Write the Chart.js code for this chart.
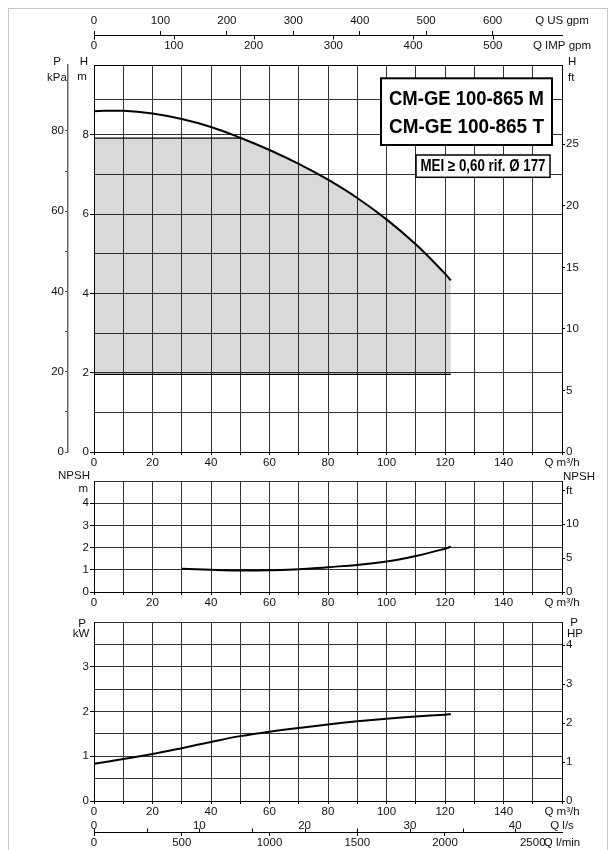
<!DOCTYPE html>
<html>
<head>
<meta charset="utf-8">
<script src="https://cdn.jsdelivr.net/npm/chart.js@4/dist/chart.umd.min.js"></script>
<style>
body { margin: 0; background: #fff; }
#page { position: relative; width: 615px; height: 850px; overflow: hidden; }
#frame { position: absolute; left: 8px; top: 8px; width: 598px; height: 900px; border: 1px solid #c8c8c8; }
canvas { position: absolute; left: 0; top: 0; }
</style>
</head>
<body>
<div id="page">
  <div id="frame"></div>
  <canvas id="head" width="615" height="850"></canvas>
  <canvas id="npsh" width="615" height="850"></canvas>
  <canvas id="power" width="615" height="850"></canvas>
</div>
<script>
// pump curves (Q in m3/h)
var q_head = [0, 10, 20, 30, 40, 50, 60, 70, 80, 90, 100, 110, 120, 122];
var h_head = [8.60, 8.61, 8.54, 8.40, 8.20, 7.93, 7.62, 7.27, 6.87, 6.41, 5.87, 5.24, 4.50, 4.33];
var q_npsh = [30, 40, 50, 60, 70, 80, 90, 100, 110, 120, 122];
var h_npsh = [1.05, 1.0, 0.97, 0.98, 1.02, 1.12, 1.22, 1.37, 1.62, 1.95, 2.04];
var q_power = [0, 10, 20, 30, 40, 50, 60, 70, 80, 90, 100, 110, 120, 122];
var p_power = [0.83, 0.94, 1.05, 1.18, 1.32, 1.45, 1.55, 1.63, 1.71, 1.78, 1.84, 1.89, 1.93, 1.94];

// working range (grey area)
var band_q = [0, 122];
var band_top = 7.92;
var band_bottom = 1.96;
var band_top_q = [0, 50];

// axes ranges
var q_max = 160;
var h_max = 9.765;
var kpa_max = 96.44;
var hft_max = 31.44;
var npsh_max = 5;
var npsh_ft_max = 16.4;
var kw_max = 4;
var hp_max = 4.59;

// unit factors to m3/h
var us_gpm = 0.22712;
var imp_gpm = 0.272765;
var l_s = 3.6;
var l_min = 0.06;

// tick values
var h_ticks = [0, 1, 2, 3, 4, 5, 6, 7, 8, 8.9];
var kpa_ticks = [0, 10, 20, 30, 40, 50, 60, 70, 80];
var hft_ticks = [0, 5, 10, 15, 20, 25];
var npsh_ft_ticks = [0, 5, 10, 15];
var hp_ticks = [0, 1, 2, 3, 4];
var us_ticks = [0, 100, 200, 300, 400, 500, 600];
var imp_ticks = [0, 100, 200, 300, 400, 500];
var ls_ticks = [0, 5, 10, 15, 20, 25, 30, 35, 40];
var lmin_ticks = [0, 500, 1000, 1500, 2000, 2500];

var model_lines = ['CM-GE 100-865 M', 'CM-GE 100-865 T'];
var mei_line = ['MEI \u2265 0,60 rif. \u00d8 177'];

var FONT = '"Liberation Sans", Arial, Helvetica, sans-serif';
var gridCol = '#333';
var ink = '#111';
var none = 'rgba(0,0,0,0)';

Chart.defaults.font.family = FONT;
Chart.defaults.font.size = 11.5;
Chart.defaults.color = ink;
Chart.defaults.animation = false;

function pts(xs, ys) {
  return xs.map(function (x, i) { return { x: x, y: ys[i] }; });
}
function width(px) { return function (s) { s.width = px; }; }
function height(px) { return function (s) { s.height = px; }; }
// fixed tick list, optional extra tick at the axis end for the unit label
function tickList(list, end) {
  return function (s) {
    var l = list.slice();
    if (end !== undefined) l.push(end);
    s.ticks = l.map(function (v) { return { value: v }; });
  };
}
function onlyUpTo(lim, col) {
  return function (c) { return c.tick && c.tick.value <= lim ? col : none; };
}

// text next to the axes
var titlePlugin = {
  id: 'axisTitles',
  afterDraw: function (chart, args, opts) {
    var ctx = chart.ctx, a = chart.chartArea;
    ctx.save();
    ctx.fillStyle = ink;
    ctx.font = '11.5px ' + FONT;
    ctx.textBaseline = 'middle';
    (opts.items || []).forEach(function (it) {
      ctx.textAlign = it.align || 'center';
      ctx.fillText(it.t, (it.side === 'right' ? a.right : a.left) + it.dx, a.top + it.dy);
    });
    ctx.restore();
  }
};

// tick marks on the other side of a shared axis line
var flipTicks = {
  id: 'flipTicks',
  afterDraw: function (chart, args, opts) {
    var ctx = chart.ctx;
    (opts.list || []).forEach(function (f) {
      var sc = chart.scales[f.scale], ref = chart.scales[f.ref];
      var y0 = Math.round(f.edge === 'bottom' ? ref.bottom : ref.top) + 0.5;
      ctx.save();
      ctx.strokeStyle = '#000';
      ctx.lineWidth = 1;
      ctx.beginPath();
      sc.ticks.forEach(function (t) {
        if (t.value > f.upTo) return;
        var x = Math.round(sc.getPixelForValue(t.value)) + 0.5;
        ctx.moveTo(x, y0);
        ctx.lineTo(x, y0 + f.len);
      });
      ctx.stroke();
      ctx.restore();
    });
  }
};

// model name boxes
var boxPlugin = {
  id: 'modelBox',
  afterDraw: function (chart, args, opts) {
    var ctx = chart.ctx, a = chart.chartArea;
    (opts.boxes || []).forEach(function (b) {
      var x = a.right - b.right - b.w, y = a.top + b.top;
      ctx.save();
      ctx.fillStyle = '#fff';
      ctx.fillRect(x, y, b.w, b.h);
      ctx.lineWidth = b.lw;
      ctx.strokeStyle = '#000';
      ctx.strokeRect(x, y, b.w, b.h);
      ctx.fillStyle = '#000';
      ctx.font = 'bold ' + b.size + 'px ' + FONT;
      ctx.textAlign = 'center';
      ctx.textBaseline = 'middle';
      b.lines.forEach(function (txt, i) {
        var k = Math.min(1, b.tw / ctx.measureText(txt).width);
        ctx.save();
        ctx.translate(x + b.w / 2, y + b.ly[i]);
        ctx.scale(k, 1);
        ctx.fillText(txt, 0, 0);
        ctx.restore();
      });
      ctx.restore();
    });
  }
};

function qAxis(h) {
  return {
    type: 'linear', position: 'bottom', min: 0, max: q_max, weight: 0,
    afterFit: height(h),
    ticks: {
      stepSize: 10, autoSkip: false, maxRotation: 0, padding: 1,
      callback: function (v) { return v === q_max ? 'Q m\u00b3/h' : (v % 20 === 0 ? v : ''); }
    },
    grid: { color: gridCol, tickLength: 3, tickColor: '#000' },
    border: { color: '#000' }
  };
}

function curve(data, w, yId) {
  return {
    data: data, yAxisID: yId, xAxisID: 'x', borderColor: '#000', borderWidth: w, pointRadius: 0,
    tension: 0.4, fill: false
  };
}

// ---- head chart ----
var band = curve(pts(q_head.filter(function (q) { return q <= band_q[1]; }),
                     h_head.map(function (h) { return Math.min(h, band_top); })), 0, 'yH');
band.backgroundColor = 'rgba(0,0,0,0.15)';
band.fill = { value: band_bottom };

new Chart(document.getElementById('head'), {
  type: 'line',
  data: {
    datasets: [
      curve(pts(q_head, h_head), 2, 'yH'),
      curve(pts(band_top_q, [band_top, band_top]), 1.2, 'yH'),
      curve(pts(band_q, [band_bottom, band_bottom]), 1.2, 'yH'),
      band
    ]
  },
  options: {
    responsive: false,
    layout: { padding: { top: 0, bottom: 378, left: 10, right: 10 } },
    plugins: {
      legend: { display: false }, tooltip: { enabled: false },
      axisTitles: { items: [
        { t: 'P', dx: -37, dy: -3 }, { t: 'kPa', dx: -37, dy: 13 },
        { t: 'H', dx: -10, dy: -3 }, { t: 'm', dx: -12, dy: 12 },
        { t: 'H', side: 'right', dx: 6, dy: -3, align: 'left' },
        { t: 'ft', side: 'right', dx: 6, dy: 13, align: 'left' }
      ] },
      flipTicks: { list: [{ scale: 'xImp', ref: 'xUs', edge: 'bottom', len: 4, upTo: 500 }] },
      modelBox: { boxes: [
        { lines: model_lines, right: 10, top: 13.3, w: 171, h: 66.7, lw: 2, size: 21, tw: 155, ly: [21, 49] },
        { lines: mei_line, right: 12, top: 90, w: 134, h: 22.3, lw: 1.5, size: 16, tw: 125, ly: [11.5] }
      ] }
    },
    scales: {
      x: qAxis(20),
      xUs: {
        type: 'linear', position: 'top', min: 0, max: q_max / us_gpm, weight: 10,
        afterFit: height(35),
        afterBuildTicks: tickList(us_ticks, q_max / us_gpm),
        ticks: {
          autoSkip: false, maxRotation: 0, padding: 3,
          callback: function (v) { return v > 600 ? 'Q US gpm' : v; }
        },
        grid: { drawOnChartArea: false, tickLength: 4, tickColor: onlyUpTo(600, '#000') },
        border: { color: '#000' }
      },
      xImp: {
        type: 'linear', position: 'top', min: 0, max: q_max / imp_gpm, weight: 0,
        afterFit: height(30),
        afterBuildTicks: tickList(imp_ticks, q_max / imp_gpm),
        ticks: {
          autoSkip: false, maxRotation: 0, padding: 12,
          callback: function (v) { return v > 500 ? 'Q IMP gpm' : v; }
        },
        grid: { display: false, drawTicks: false },
        border: { color: '#000' }
      },
      yH: {
        type: 'linear', position: 'left', min: 0, max: h_max, weight: 0,
        afterFit: width(26),
        afterBuildTicks: tickList(h_ticks),
        ticks: { padding: 1, callback: function (v) { return v % 2 === 0 ? v : ''; } },
        grid: {
          color: gridCol, tickLength: 4,
          tickColor: function (c) { return c.tick && c.tick.value % 2 === 0 ? '#000' : none; }
        },
        border: { color: '#000' }
      },
      yKpa: {
        type: 'linear', position: 'left', min: 0, max: kpa_max, weight: 10,
        afterFit: width(58),
        afterBuildTicks: tickList(kpa_ticks),
        ticks: { padding: 1, callback: function (v) { return v % 20 === 0 ? v : ''; } },
        grid: { drawOnChartArea: false, tickLength: 3, tickColor: '#555' },
        border: { color: '#666', width: 1.5 }
      },
      yFt: {
        type: 'linear', position: 'right', min: 0, max: hft_max,
        afterFit: width(43),
        afterBuildTicks: tickList(hft_ticks),
        ticks: { padding: 1 },
        grid: { drawOnChartArea: false, tickLength: 3, tickColor: '#000' },
        border: { color: '#000' }
      }
    }
  },
  plugins: [titlePlugin, flipTicks, boxPlugin]
});

// ---- NPSH chart ----
new Chart(document.getElementById('npsh'), {
  type: 'line',
  data: { datasets: [curve(pts(q_npsh, h_npsh), 2, 'yN')] },
  options: {
    responsive: false,
    layout: { padding: { top: 481, bottom: 240, left: 10, right: 10 } },
    plugins: {
      legend: { display: false }, tooltip: { enabled: false },
      axisTitles: { items: [
        { t: 'NPSH', dx: -4, dy: -5, align: 'right' }, { t: 'm', dx: -6, dy: 8, align: 'right' },
        { t: 'NPSH', side: 'right', dx: 1, dy: -4, align: 'left' }
      ] }
    },
    scales: {
      x: qAxis(18),
      yN: {
        type: 'linear', position: 'left', min: 0, max: npsh_max,
        afterFit: width(84),
        ticks: { stepSize: 1, padding: 1, callback: function (v) { return v < npsh_max ? v : ''; } },
        grid: { color: gridCol, tickLength: 4, tickColor: onlyUpTo(4, '#000') },
        border: { color: '#000' }
      },
      yNft: {
        type: 'linear', position: 'right', min: 0, max: npsh_ft_max,
        afterFit: width(43),
        afterBuildTicks: tickList(npsh_ft_ticks),
        ticks: { padding: 1, callback: function (v) { return v === 15 ? 'ft' : v; } },
        grid: { drawOnChartArea: false, tickLength: 3, tickColor: '#000' },
        border: { color: '#000' }
      }
    }
  },
  plugins: [titlePlugin]
});

// ---- power chart ----
new Chart(document.getElementById('power'), {
  type: 'line',
  data: { datasets: [curve(pts(q_power, p_power), 2, 'yP')] },
  options: {
    responsive: false,
    layout: { padding: { top: 622, bottom: 0, left: 10, right: 10 } },
    plugins: {
      legend: { display: false }, tooltip: { enabled: false },
      axisTitles: { items: [
        { t: 'P', dx: -12, dy: 1.5 }, { t: 'kW', dx: -13, dy: 12 },
        { t: 'P', side: 'right', dx: 12, dy: 1, align: 'center' },
        { t: 'HP', side: 'right', dx: 13, dy: 12, align: 'center' }
      ] },
      flipTicks: { list: [{ scale: 'xLs', ref: 'xLmin', edge: 'top', len: -4, upTo: 40 }] }
    },
    scales: {
      x: qAxis(18),
      xLs: {
        type: 'linear', position: 'bottom', min: 0, max: q_max / l_s, weight: 5,
        afterFit: height(13),
        afterBuildTicks: tickList(ls_ticks, q_max / l_s),
        ticks: {
          autoSkip: false, maxRotation: 0, padding: 0,
          callback: function (v) { return v > 40 ? 'Q l/s' : (v % 10 === 0 ? v : ''); }
        },
        grid: { display: false, drawTicks: false },
        border: { display: false }
      },
      xLmin: {
        type: 'linear', position: 'bottom', min: 0, max: q_max / l_min, weight: 10,
        afterFit: height(18),
        afterBuildTicks: tickList(lmin_ticks, q_max / l_min),
        ticks: {
          autoSkip: false, maxRotation: 0, padding: 0,
          callback: function (v) { return v > 2500 ? 'Q l/min' : v; }
        },
        grid: { drawOnChartArea: false, tickLength: 4, tickColor: onlyUpTo(2000, '#000') },
        border: { color: '#000' }
      },
      yP: {
        type: 'linear', position: 'left', min: 0, max: kw_max,
        afterFit: width(84),
        ticks: { stepSize: 0.5, padding: 1, callback: function (v) { return v % 1 === 0 && v < kw_max ? v : ''; } },
        grid: {
          color: gridCol, tickLength: 4,
          tickColor: function (c) { return c.tick && c.tick.value % 1 === 0 && c.tick.value < kw_max ? '#000' : none; }
        },
        border: { color: '#000' }
      },
      yHp: {
        type: 'linear', position: 'right', min: 0, max: hp_max,
        afterFit: width(43),
        afterBuildTicks: tickList(hp_ticks),
        ticks: { padding: 1 },
        grid: { drawOnChartArea: false, tickLength: 3, tickColor: '#000' },
        border: { color: '#000' }
      }
    }
  },
  plugins: [titlePlugin, flipTicks]
});
</script>
</body>
</html>
